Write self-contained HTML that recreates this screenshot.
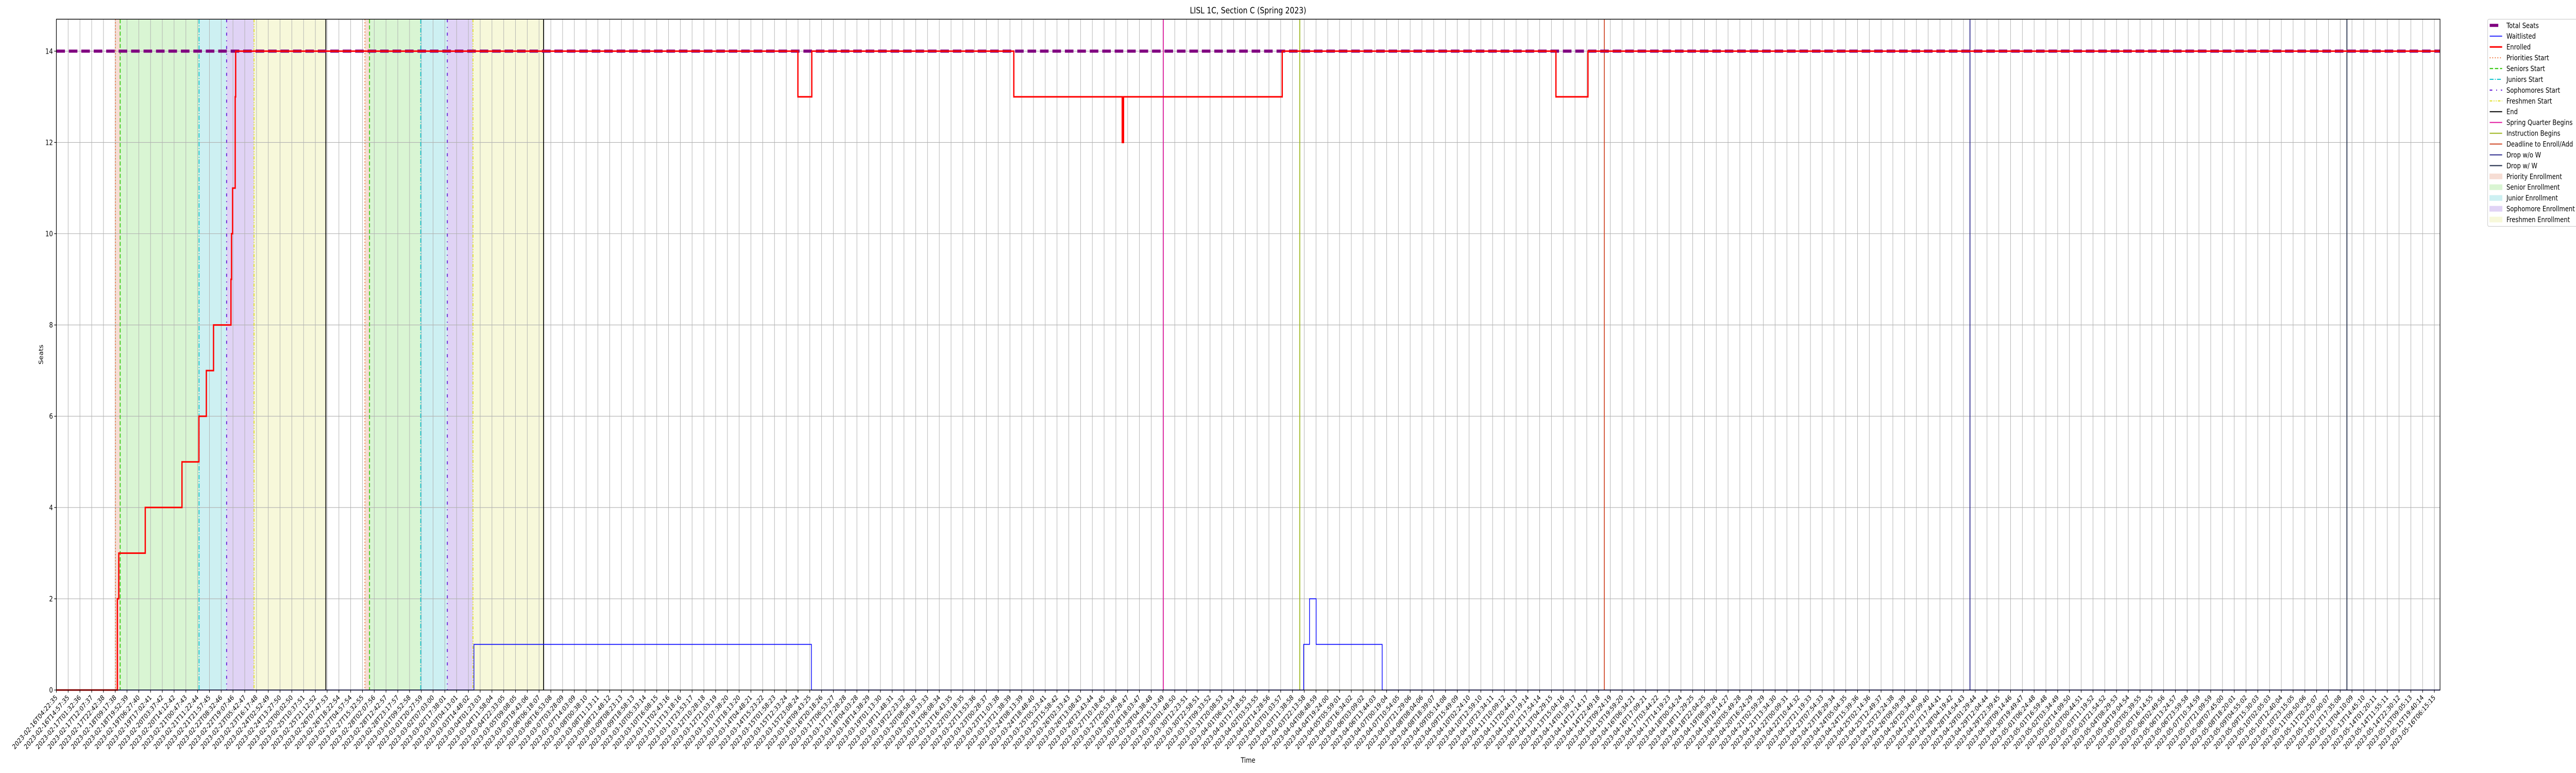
<!DOCTYPE html>
<html>
<head>
<meta charset="utf-8">
<style>
  html, body { margin: 0; padding: 0; background: #ffffff; width: 100%; height: 100%; overflow: hidden; }
  #chart { position: fixed; left: 0; top: 0; display: block; width: 100vw; height: 100vh; }
  svg text { font-family: "DejaVu Sans", "Liberation Sans", sans-serif; fill: #000; }
</style>
</head>
<body>
<svg id="chart" xmlns="http://www.w3.org/2000/svg" viewBox="0 0 6000 1500" preserveAspectRatio="none" overflow="hidden">
  <rect x="0" y="0" width="6000" height="1500" fill="#ffffff"/>
  <text x="2907" y="26" text-anchor="middle" font-size="16.7">LISL 1C, Section C (Spring 2023)</text>
  <text x="2907" y="1480" text-anchor="middle" font-size="13.9">Time</text>
  <text x="0" y="0" text-anchor="middle" font-size="13.9" transform="translate(100,688) rotate(-90)">Seats</text>
  <g id="fills"></g>
  <g id="grid"></g>
  <g id="events"></g>
  <g id="series"></g>
  <g id="axes"></g>
  <g id="legend"></g>
</svg>
<script>
// ---- data ----
const tickCount = 203;
const firstTickLabel = '2023-02-16T04:22:35';
const lastTickLabel = '2023-05-16T06:15:15';
const yTicks = [0, 2, 4, 6, 8, 10, 12, 14];
const totalSeats = 14;
const enrolledX = [0, 5.18, 5.30, 7.55, 10.67, 12.11, 12.74, 13.35, 14.83, 14.88, 14.97, 15.19, 15.23, 62.99, 64.17, 81.33, 90.54, 90.65, 104.13, 127.38, 130.10];
const enrolledY = [0, 2, 3, 4, 5, 6, 7, 8, 9, 10, 11, 13, 14, 13, 14, 13, 12, 13, 14, 13, 14];
const waitlistX = [0, 35.47, 64.14, 105.95, 106.45, 107.01, 112.62];
const waitlistY = [0, 1, 0, 1, 2, 1, 0];
const prioritiesStart = [5.01, 26.21];
const seniorsStart = [5.42, 26.60];
const juniorsStart = [12.12, 30.95];
const sophomoresStart = [14.46, 33.21];
const freshmenStart = [16.79, 35.39];
const periodEnd = [22.89, 41.39];
const springBegins = 94.03;
const instructionBegins = 105.62;
const deadlineAdd = 131.49;
const dropNoW = 162.55;
const dropW = 194.57;

// tick labels (generated between the first and last readable labels)
const tickLabels = [];
(function(){
  const t0 = Date.parse(firstTickLabel + 'Z');
  const t1 = Date.parse(lastTickLabel + 'Z');
  for (let i = 0; i < tickCount; i++) {
    const t = new Date(t0 + (t1 - t0) * i / (tickCount - 1));
    tickLabels.push(t.toISOString().slice(0, 19));
  }
})();

// ---- scales ----
const PL = 131.3, PR = 5683.3, PT = 37.3, PB = 1339;
const xMax = 202.48, yMaxV = 14.7;
function xScale(i) { return PL + i * (PR - PL) / xMax; }
function yScale(v) { return PB - v * (PB - PT) / yMaxV; }

const NS = 'http://www.w3.org/2000/svg';
function mk(tag, parent, attrs) {
  const e = document.createElementNS(NS, tag);
  for (const k in attrs) e.setAttribute(k, attrs[k]);
  parent.appendChild(e);
  return e;
}
const gFills = document.getElementById('fills');
const gGrid = document.getElementById('grid');
const gEv = document.getElementById('events');
const gSer = document.getElementById('series');
const gAx = document.getElementById('axes');
const gLeg = document.getElementById('legend');

// ---- fills ----
const fillColors = { priority: '#f6ddd4', senior: '#d9f5d3', junior: '#cdf0f2', sophomore: '#e0d3f5', freshmen: '#f7f8da' };
for (let c = 0; c < prioritiesStart.length; c++) {
  const spans = [
    ['priority', prioritiesStart[c], seniorsStart[c]],
    ['senior', seniorsStart[c], juniorsStart[c]],
    ['junior', juniorsStart[c], sophomoresStart[c]],
    ['sophomore', sophomoresStart[c], freshmenStart[c]],
    ['freshmen', freshmenStart[c], periodEnd[c]]
  ];
  spans.forEach(s => {
    const r = mk('rect', gFills, { x: xScale(s[1]), y: PT, width: xScale(s[2]) - xScale(s[1]), height: PB - PT, fill: fillColors[s[0]] });
    
    
  });
}

// ---- grid ----
for (let i = 0; i < tickCount; i++) {
  const x = xScale(i);
  const l = mk('line', gGrid, { x1: x, x2: x, y1: PT, y2: PB, stroke: '#b0b0b0', 'stroke-width': 1.1 });
  
  
}
yTicks.forEach(v => {
  const y = yScale(v);
  const l = mk('line', gGrid, { x1: PL, x2: PR, y1: y, y2: y, stroke: '#b0b0b0', 'stroke-width': 1.1 });
  
  
});

// ---- event lines ----
function vline(idx, color, dash, width, name) {
  const x = xScale(idx);
  const a = { x1: x, x2: x, y1: PT, y2: PB, stroke: color, 'stroke-width': width };
  if (dash) a['stroke-dasharray'] = dash;
  const l = mk('line', gEv, a);
  
  
}
const styles = {
  priorities: ['#ec6a2c', '2,4', 2],
  seniors: ['#3fcc1a', '8,4', 2.2],
  juniors: ['#1ac6d0', '9,3,2,3', 2.2],
  sophomores: ['#6a22d8', '6,9,2,9', 2.2],
  freshmen: ['#e0e02a', '6,3,2,3,2,3', 2.2],
  end: ['#000000', null, 2],
  spring: ['#e0169e', null, 2],
  instruction: ['#9bb51a', null, 2],
  deadline: ['#cf4422', null, 2],
  dropNoW: ['#2b2a8c', null, 2],
  dropW: ['#2f3a55', null, 2.2]
};
for (let c = 0; c < prioritiesStart.length; c++) {
  vline(prioritiesStart[c], ...styles.priorities, 'priorities-start-line');
  vline(seniorsStart[c], ...styles.seniors, 'seniors-start-line');
  vline(juniorsStart[c], ...styles.juniors, 'juniors-start-line');
  vline(sophomoresStart[c], ...styles.sophomores, 'sophomores-start-line');
  vline(freshmenStart[c], ...styles.freshmen, 'freshmen-start-line');
  vline(periodEnd[c], ...styles.end, 'end-line');
}
vline(springBegins, ...styles.spring, 'spring-quarter-begins-line');
vline(instructionBegins, ...styles.instruction, 'instruction-begins-line');
vline(deadlineAdd, ...styles.deadline, 'deadline-enroll-add-line');
vline(dropNoW, ...styles.dropNoW, 'drop-without-w-line');
vline(dropW, ...styles.dropW, 'drop-with-w-line');

// ---- series ----
function stepPath(xs, ys) {
  let d = 'M' + xScale(xs[0]) + ' ' + yScale(ys[0]);
  for (let i = 1; i < xs.length; i++) {
    d += ' H' + xScale(xs[i]) + ' V' + yScale(ys[i]);
  }
  d += ' H' + xScale(xMax);
  return d;
}
const total = mk('line', gSer, { x1: PL, x2: PR, y1: yScale(totalSeats), y2: yScale(totalSeats), stroke: '#800080', 'stroke-width': 6, 'stroke-dasharray': '20,9' });


const wl = mk('path', gSer, { d: stepPath(waitlistX, waitlistY), fill: 'none', stroke: '#0000ff', 'stroke-width': 1.6 });


const en = mk('path', gSer, { d: stepPath(enrolledX, enrolledY), fill: 'none', stroke: '#ff0000', 'stroke-width': 3 });



// ---- axes ----
const frame = mk('rect', gAx, { x: PL, y: PT, width: PR - PL, height: PB - PT, fill: 'none', stroke: '#000', 'stroke-width': 1.4 });


yTicks.forEach(v => {
  const y = yScale(v);
  mk('line', gAx, { x1: PL - 5, x2: PL, y1: y, y2: y, stroke: '#000', 'stroke-width': 1.2 });
  const t = mk('text', gAx, { x: PL - 8, y: y + 5, 'text-anchor': 'end', 'font-size': 13.9 });
  t.textContent = String(v);
  
  
});
for (let i = 0; i < tickCount; i++) {
  const x = xScale(i);
  mk('line', gAx, { x1: x, x2: x, y1: PB, y2: PB + 5, stroke: '#000', 'stroke-width': 1.2 });
  const t = mk('text', gAx, { x: 0, y: 0, 'text-anchor': 'end', 'dominant-baseline': 'hanging', 'font-size': 13.5, textLength: 142, lengthAdjust: 'spacingAndGlyphs', transform: 'translate(' + (x - 4) + ',' + (PB + 8) + ') rotate(-45)' });
  t.textContent = tickLabels[i];
  
  
}

// ---- legend ----
const LX = 5794.3, LY = 37.3;
const lbox = mk('rect', gLeg, { x: LX, y: LY, width: 220, height: 402, rx: 3, fill: '#ffffff', 'fill-opacity': 0.8, stroke: '#cccccc', 'stroke-width': 1.2 });


const legendLabels = ['Total Seats', 'Waitlisted', 'Enrolled', 'Priorities Start', 'Seniors Start', 'Juniors Start', 'Sophomores Start', 'Freshmen Start', 'End', 'Spring Quarter Begins', 'Instruction Begins', 'Deadline to Enroll/Add', 'Drop w/o W', 'Drop w/ W', 'Priority Enrollment', 'Senior Enrollment', 'Junior Enrollment', 'Sophomore Enrollment', 'Freshmen Enrollment'];
const legendHandles = [
  ['line', '#800080', '20,9', 6], ['line', '#0000ff', null, 1.6], ['line', '#ff0000', null, 3],
  ['line', ...styles.priorities], ['line', ...styles.seniors], ['line', ...styles.juniors], ['line', ...styles.sophomores], ['line', ...styles.freshmen],
  ['line', ...styles.end], ['line', ...styles.spring], ['line', ...styles.instruction], ['line', ...styles.deadline], ['line', ...styles.dropNoW], ['line', ...styles.dropW],
  ['patch', fillColors.priority], ['patch', fillColors.senior], ['patch', fillColors.junior], ['patch', fillColors.sophomore], ['patch', fillColors.freshmen]
];
legendLabels.forEach((lab, i) => {
  const cy = 49.3 + i * 20.93;
  const g = mk('g', gLeg, {});
  
  
  const h = legendHandles[i];
  if (h[0] === 'line') {
    const a = { x1: 5799, x2: 5828, y1: cy, y2: cy, stroke: h[1], 'stroke-width': h[3] };
    if (h[2]) a['stroke-dasharray'] = h[2];
    mk('line', g, a);
  } else {
    mk('rect', g, { x: 5799, y: cy - 5, width: 29, height: 10, fill: h[1], stroke: h[1] });
  }
  const t = mk('text', g, { x: 5838, y: cy + 5, 'font-size': 13.9 });
  t.textContent = lab;
});
</script>
</body>
</html>
